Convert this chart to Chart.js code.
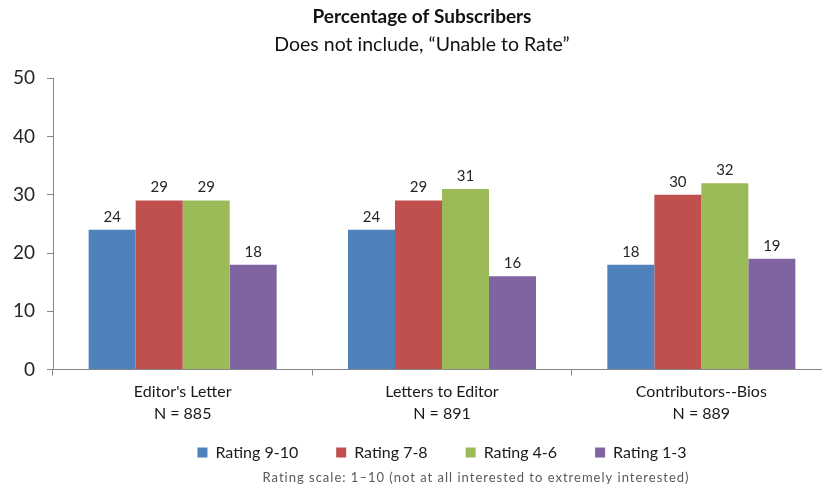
<!DOCTYPE html>
<html>
<head>
<meta charset="utf-8">
<script src="https://cdn.jsdelivr.net/npm/chart.js@4/dist/chart.umd.min.js"></script>
<style>
  html, body { margin: 0; padding: 0; background: #ffffff; overflow: hidden; }
  #wrap { width: 822px; height: 494px; overflow: hidden; }
  canvas { display: block; }
</style>
</head>
<body>
<div id="wrap"><canvas id="chart" width="848" height="494"></canvas></div>
<script>
// Survey sections and respondent counts
const sections = ["Editor's Letter", "Letters to Editor", "Contributors--Bios"];
const sampleSizes = [885, 891, 889];

// Percent of subscribers in each rating band
const rating9to10 = [24, 24, 18];
const rating7to8 = [29, 29, 30];
const rating4to6 = [29, 31, 32];
const rating1to3 = [18, 16, 19];

const seriesNames = ['Rating 9-10', 'Rating 7-8', 'Rating 4-6', 'Rating 1-3'];
const yTicks = [0, 10, 20, 30, 40, 50];

const titleText = 'Percentage of Subscribers';
const subtitleText = 'Does not include, \u201cUnable to Rate\u201d';
const noteText = 'Rating scale: 1\u201310 (not at all interested to extremely interested)';

const FONT = 'Lato, "Liberation Sans", sans-serif';

const labels = sections.map((s, i) => [s, 'N = ' + sampleSizes[i]]);

// Value labels above each bar
const barValues = {
  id: 'barValues',
  afterDatasetsDraw(chart) {
    const ctx = chart.ctx;
    ctx.save();
    ctx.font = '15px ' + FONT;
    ctx.fillStyle = '#262626';
    ctx.textAlign = 'center';
    ctx.textBaseline = 'middle';
    chart.data.datasets.forEach((ds, di) => {
      chart.getDatasetMeta(di).data.forEach((bar, i) => {
        ctx.fillText(String(ds.data[i]), bar.x, bar.y - 13);
      });
    });
    ctx.restore();
  }
};

// Footnote under the legend
const footNote = {
  id: 'footNote',
  afterDraw(chart) {
    const ctx = chart.ctx;
    ctx.save();
    ctx.font = '13px ' + FONT;
    ctx.letterSpacing = '1px';
    ctx.fillStyle = '#595959';
    ctx.textAlign = 'center';
    ctx.textBaseline = 'middle';
    ctx.fillText(noteText, 476, 478);
    ctx.restore();
  }
};

// Extra room after each legend entry except the last
const legendLabels = (chart) => {
  const items = Chart.defaults.plugins.legend.labels.generateLabels(chart);
  items.forEach((it, i) => {
    if (i < items.length - 1) it.text = it.text + '\u2003\u2009\u2009';
  });
  return items;
};

new Chart(document.getElementById('chart'), {
  type: 'bar',
  data: {
    labels: labels,
    datasets: [
      { label: seriesNames[0], data: rating9to10, backgroundColor: '#4F81BD' },
      { label: seriesNames[1], data: rating7to8, backgroundColor: '#C0504D' },
      { label: seriesNames[2], data: rating4to6, backgroundColor: '#9BBB59' },
      { label: seriesNames[3], data: rating1to3, backgroundColor: '#8064A2' }
    ]
  },
  options: {
    responsive: false,
    animation: false,
    devicePixelRatio: 1,
    layout: { padding: { left: 13, right: 17, top: 0, bottom: 23.5 } },
    datasets: {
      bar: { categoryPercentage: 0.725, barPercentage: 1.0, borderWidth: 0 }
    },
    scales: {
      x: {
        grid: { drawOnChartArea: false, drawTicks: true, tickLength: 6, color: '#868686', offset: true },
        border: { color: '#868686', width: 1 },
        ticks: { color: '#1a1a1a', font: { family: FONT, size: 16, lineHeight: 1.35 }, padding: 6, maxRotation: 0 },
        afterFit(scale) { scale.height = 53; }
      },
      y: {
        min: 0,
        max: 50,
        afterBuildTicks(scale) { scale.ticks = yTicks.map(v => ({ value: v })); },
        grid: { drawOnChartArea: false, drawTicks: true, tickLength: 6, color: '#868686' },
        border: { color: '#868686', width: 1 },
        ticks: { color: '#262626', font: { family: FONT, size: 19 }, padding: 12 },
        afterFit(scale) { scale.width = 40; }
      }
    },
    plugins: {
      title: {
        display: true,
        text: titleText,
        color: '#111111',
        font: { family: FONT, size: 19, weight: 'bold', lineHeight: 1.2 },
        padding: { top: 5.6, bottom: 0 }
      },
      subtitle: {
        display: true,
        text: subtitleText,
        color: '#111111',
        font: { family: FONT, size: 19.5, weight: 'normal', lineHeight: 1.2 },
        padding: { top: 4.9, bottom: 21.6 }
      },
      legend: {
        position: 'bottom',
        fullSize: false,
        labels: {
          boxWidth: 10,
          boxHeight: 10,
          padding: 22,
          color: '#1a1a1a',
          font: { family: FONT, size: 16 },
          generateLabels: legendLabels
        }
      },
      tooltip: { enabled: false }
    }
  },
  plugins: [barValues, footNote]
});
</script>
</body>
</html>
